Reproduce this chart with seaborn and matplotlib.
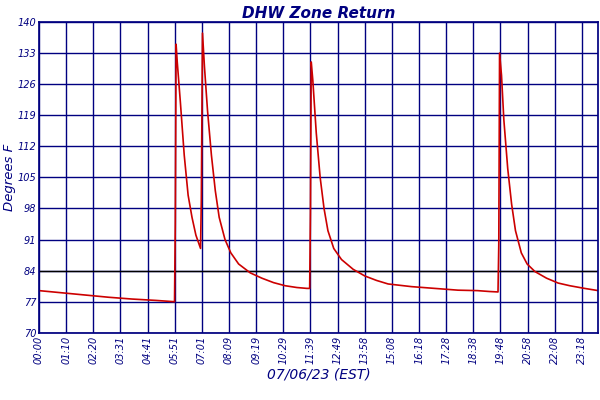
import matplotlib
matplotlib.use("Agg")
import matplotlib.pyplot as plt
import seaborn as sns

# minutes since midnight, degrees F
minutes = [0, 60, 120, 180, 240, 300, 349, 351, 353, 356, 364, 374, 384, 394, 404, 416,
           418, 421, 426, 434, 444, 454, 464, 479, 494, 514, 544, 574, 604, 634, 664, 690,
           697, 699, 701, 705, 714, 724, 734, 744, 759, 779, 809, 839, 869, 899, 959, 1019,
           1079, 1129, 1160, 1182, 1184, 1186, 1191, 1197, 1207, 1217, 1227, 1242, 1257,
           1277, 1307, 1337, 1367, 1405, 1440]
temps = [79.5, 79.0, 78.5, 78.0, 77.6, 77.3, 77.0, 95, 135, 131, 122, 110, 101, 96, 92, 89,
         100, 137.5, 130, 120, 110, 102, 96, 91, 88, 85.5, 83.5, 82.3, 81.3, 80.6, 80.2, 80.0,
         80.0, 97, 131, 127, 115, 105, 98, 93, 89, 86.5, 84.3, 82.8, 81.8, 81.0, 80.4, 80.0,
         79.6, 79.5, 79.3, 79.2, 90, 133, 128, 118, 107, 99, 93, 88, 85.5,
         83.8, 82.3, 81.2, 80.6, 80.0, 79.5]
tick_labels = ["00:00", "01:10", "02:20", "03:31", "04:41", "05:51", "07:01", "08:09",
               "09:19", "10:29", "11:39", "12:49", "13:58", "15:08", "16:18", "17:28",
               "18:38", "19:48", "20:58", "22:08", "23:18"]
y_ticks = [70, 77, 84, 91, 98, 105, 112, 119, 126, 133, 140]

navy = "#000080"
sns.set_theme(style="white")
plt.rcParams["font.family"] = ["DejaVu Sans"]

fig = plt.figure(figsize=(6, 4), dpi=100)
ax = fig.add_axes([0.065, 0.168, 0.932, 0.777])
ax.grid(True, color=navy, linewidth=1)
ax.axhline(84, color="black", linewidth=1, zorder=1.5)
sns.lineplot(x=minutes, y=temps, ax=ax, color="#cc0000", linewidth=1.2,
             label="DHW Zone Return")

tick_pos = [i * 69.9 for i in range(len(tick_labels))]
ax.set_xticks(tick_pos)
ax.set_xticklabels(tick_labels, rotation=90, fontsize=7, color=navy, style="italic")
ax.set_xlim(0, 1440)
ax.set_ylim(70, 140)
ax.set_yticks(y_ticks)
ax.set_yticklabels([str(v) for v in y_ticks], fontsize=7, color=navy, style="italic")
ax.tick_params(axis="both", length=0, pad=2)
for s in ax.spines.values():
    s.set_color(navy)

ax.set_title("DHW Zone Return", fontsize=11, color=navy, style="italic",
             fontweight="bold", pad=3)
ax.set_xlabel("07/06/23 (EST)", fontsize=10, color=navy, style="italic", labelpad=3)
ax.set_ylabel("Degrees F", fontsize=9.5, color=navy, style="italic", labelpad=1)
leg = ax.legend(loc="upper center", bbox_to_anchor=(0.47, -0.235), frameon=False,
                fontsize=8, handlelength=1.5, borderpad=0.1)
for t in leg.get_texts():
    t.set_color(navy)
    t.set_style("italic")

fig.savefig("out.png", dpi=100)
